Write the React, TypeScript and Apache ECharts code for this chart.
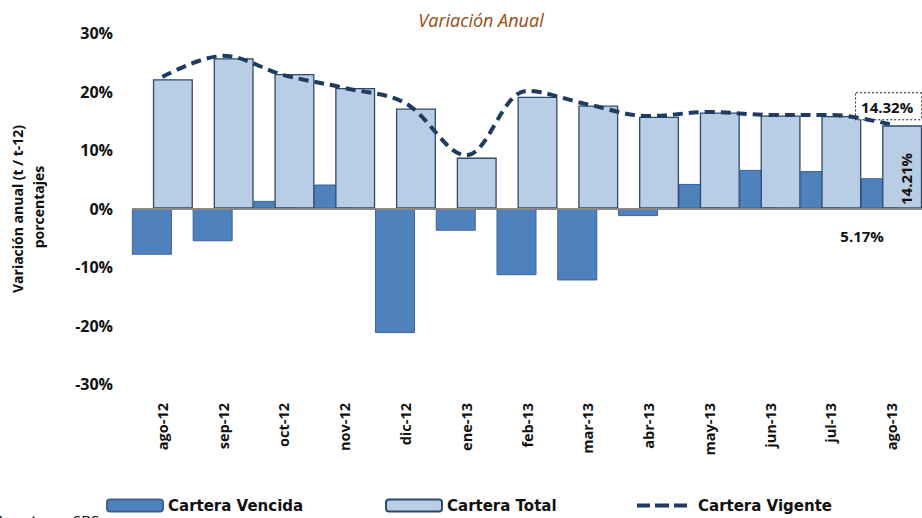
import React, { useEffect, useRef } from "react";
import * as echarts from "echarts";

const categories = ["ago-12", "sep-12", "oct-12", "nov-12", "dic-12", "ene-13", "feb-13", "mar-13", "abr-13", "may-13", "jun-13", "jul-13", "ago-13"];
const carteraVencida = [-7.9, -5.6, 1.3, 4.1, -21.3, -3.8, -11.4, -12.3, -1.3, 4.2, 6.6, 6.4, 5.17];
const carteraTotal = [22.1, 25.7, 23.0, 20.6, 17.1, 8.7, 19.1, 17.6, 15.7, 16.4, 15.9, 15.8, 14.21];
const carteraVigente = [22.5, 26.1, 22.8, 20.6, 18.0, 9.1, 20.1, 17.8, 15.8, 16.5, 16.0, 16.0, 14.32];
const yTicks = { min: -30, max: 30, interval: 10 };

const FONT = "'Open Sans', 'Noto Sans', sans-serif";
const LFONT = "'DejaVu Sans', sans-serif";

export default function App() {
  const ref = useRef<HTMLDivElement>(null);
  useEffect(() => {
    if (!ref.current) return;
    const chart = echarts.init(ref.current, null, { renderer: "svg" });
    const last = categories.length - 1;
    const pct = (v: number) => v.toFixed(2) + "%";
    const vencidaData = carteraVencida.map((v, i) =>
      i === last
        ? {
            value: v,
            label: {
              show: true,
              position: "bottom",
              distance: 20,
              offset: [-19, 0],
              formatter: (p: any) => pct(p.value),
              fontFamily: FONT,
              fontWeight: "bold",
              fontSize: 15,
              color: "#111",
            },
          }
        : v
    );
    const totalData = carteraTotal.map((v, i) =>
      i === last
        ? {
            value: v,
            label: {
              show: true,
              position: "inside",
              rotate: 90,
              offset: [-12, 4],
              formatter: (p: any) => pct(p.value),
              fontFamily: FONT,
              fontWeight: "bold",
              fontSize: 15,
              color: "#111",
            },
          }
        : v
    );

    chart.setOption({
      animation: false,
      backgroundColor: "#fff",
      title: {
        text: "Variación Anual",
        left: 476,
        top: 6,
        textAlign: "center",
        textStyle: { fontFamily: FONT, fontStyle: "italic", fontWeight: "normal", fontSize: 18, color: "#9C4A0E" },
      },
      grid: { left: 132, top: 33, width: 791, height: 351, containLabel: false },
      xAxis: {
        type: "category",
        data: categories,
        axisLine: { show: false, onZero: false },
        axisTick: { show: false },
        axisLabel: { rotate: 90, margin: 19, fontFamily: FONT, fontWeight: "bold", fontSize: 14.5, color: "#111", interval: 0 },
      },
      yAxis: {
        type: "value",
        min: yTicks.min,
        max: yTicks.max,
        interval: yTicks.interval,
        axisLine: { show: false },
        axisTick: { show: false },
        splitLine: { show: false },
        axisLabel: { formatter: "{value}%", margin: 19, fontFamily: FONT, fontWeight: "bold", fontSize: 16, color: "#111" },
      },
      legend: [
        {
          data: ["Cartera Vencida"],
          left: 106,
          top: 498,
          padding: 0,
          itemWidth: 56,
          itemHeight: 12,
          textStyle: { fontFamily: LFONT, fontWeight: "bold", fontSize: 15, color: "#111" },
        },
        {
          data: ["Cartera Total"],
          left: 385,
          top: 498,
          padding: 0,
          itemWidth: 56,
          itemHeight: 12,
          textStyle: { fontFamily: LFONT, fontWeight: "bold", fontSize: 15, color: "#111" },
        },
        {
          data: [
            {
              name: "Cartera Vigente",
              icon: "path://M0,0h13v4h-13z M18,0h14v4h-14z M37,0h13v4h-13z",
            },
          ],
          left: 637,
          top: 498,
          padding: 0,
          itemWidth: 50,
          itemHeight: 5,
          textStyle: { fontFamily: LFONT, fontWeight: "bold", fontSize: 15, color: "#111", padding: [0, 0, 0, 6] },
        },
      ],
      series: [
        {
          name: "Cartera Vencida",
          type: "bar",
          data: vencidaData,
          barWidth: 40,
          barGap: "-47.5%",
          itemStyle: { color: "#4F81BD", borderColor: "#3B6296", borderWidth: 1 },
          markLine: {
            silent: true,
            symbol: "none",
            label: { show: false },
            lineStyle: { color: "#888", width: 2, type: "solid" },
            data: [{ yAxis: 0 }],
            z: 5,
          },
        },
        {
          name: "Cartera Total",
          type: "bar",
          data: totalData,
          barWidth: 40,
          barGap: "-47.5%",
          itemStyle: { color: "#B9CDE5", borderColor: "#2B4A70", borderWidth: 1.3 },
        },
        {
          name: "Cartera Vigente",
          type: "line",
          data: carteraVigente,
          smooth: 0.35,
          symbol: "none",
          z: 6,
          lineStyle: { color: "#1F3B60", width: 4, type: [10, 6] },
          itemStyle: { color: "#1F3B60" },
          markPoint: {
            silent: true,
            symbol: "rect",
            symbolSize: 1,
            itemStyle: { color: "rgba(0,0,0,0)" },
            data: [
              {
                coord: [last, carteraVigente[last]],
                value: carteraVigente[last],
                label: {
                  show: true,
                  position: "top",
                  distance: 5,
                  offset: [-3, 0],
                  formatter: (p: any) => pct(p.value),
                  fontFamily: FONT,
                  fontWeight: "bold",
                  fontSize: 15,
                  color: "#111",
                  backgroundColor: "#fff",
                  borderColor: "#222",
                  borderWidth: 1,
                  borderType: "dotted",
                  padding: [6, 8, 5, 5],
                },
              },
            ],
          },
        },
      ],
      graphic: [
        {
          type: "text",
          x: 17,
          y: 209,
          rotation: Math.PI / 2,
          style: {
            text: "Variación anual (t / t-12)",
            fontFamily: FONT,
            fontWeight: "bold",
            fontSize: 14,
            fill: "#111",
            align: "center",
            verticalAlign: "middle",
          },
        },
        {
          type: "text",
          x: 38,
          y: 207,
          rotation: Math.PI / 2,
          style: {
            text: "porcentajes",
            fontFamily: FONT,
            fontWeight: "bold",
            fontSize: 14,
            fill: "#111",
            align: "center",
            verticalAlign: "middle",
          },
        },
        {
          type: "text",
          x: -6,
          y: 512,
          style: { text: "Fuente:", fontFamily: FONT, fontWeight: "bold", fontSize: 15, fill: "#111" },
        },
        {
          type: "text",
          x: 73,
          y: 512,
          style: { text: "SBS", fontFamily: FONT, fontSize: 15, fill: "#111" },
        },
      ],
    });
    return () => chart.dispose();
  }, []);
  return <div ref={ref} style={{ position: "absolute", left: 0, top: 0, width: 922, height: 518 }} />;
}
